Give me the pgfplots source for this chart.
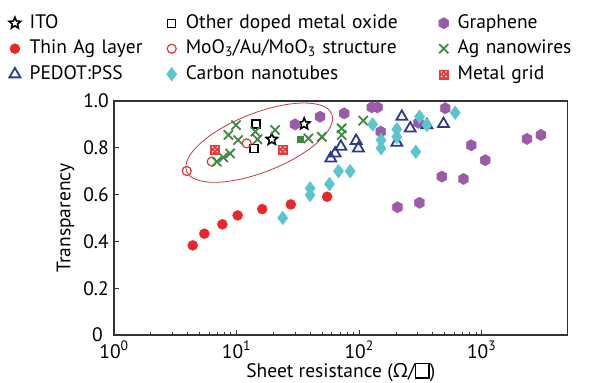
\documentclass[border=0pt]{standalone}
\usepackage{fontspec}
\setmainfont{PT Sans}
\newfontfamily\omegafont{Open Sans}
\usepackage{pgfplots}
\pgfplotsset{compat=1.18}

\definecolor{agred}{HTML}{E8262C}
\definecolor{moored}{HTML}{E0343A}
\definecolor{gridred}{HTML}{E83A3E}
\definecolor{pblue}{HTML}{2B3990}
\definecolor{cnt}{HTML}{5BC5CE}
\definecolor{graph}{HTML}{9A5BA8}
\definecolor{agnw}{HTML}{3D8B3D}
\definecolor{ell}{HTML}{C8363D}

\pgfdeclareplotmark{fivestar}{%
  \pgfpathmoveto{\pgfpointpolar{90}{\pgfplotmarksize}}%
  \pgfpathlineto{\pgfpointpolar{126}{0.45\pgfplotmarksize}}%
  \pgfpathlineto{\pgfpointpolar{162}{\pgfplotmarksize}}%
  \pgfpathlineto{\pgfpointpolar{198}{0.45\pgfplotmarksize}}%
  \pgfpathlineto{\pgfpointpolar{234}{\pgfplotmarksize}}%
  \pgfpathlineto{\pgfpointpolar{270}{0.45\pgfplotmarksize}}%
  \pgfpathlineto{\pgfpointpolar{306}{\pgfplotmarksize}}%
  \pgfpathlineto{\pgfpointpolar{342}{0.45\pgfplotmarksize}}%
  \pgfpathlineto{\pgfpointpolar{18}{\pgfplotmarksize}}%
  \pgfpathlineto{\pgfpointpolar{54}{0.45\pgfplotmarksize}}%
  \pgfpathclose
  \pgfusepathqfillstroke}
\pgfdeclareplotmark{hexagon*}{%
  \pgfpathmoveto{\pgfpointpolar{90}{\pgfplotmarksize}}%
  \pgfpathlineto{\pgfpointpolar{150}{\pgfplotmarksize}}%
  \pgfpathlineto{\pgfpointpolar{210}{\pgfplotmarksize}}%
  \pgfpathlineto{\pgfpointpolar{270}{\pgfplotmarksize}}%
  \pgfpathlineto{\pgfpointpolar{330}{\pgfplotmarksize}}%
  \pgfpathlineto{\pgfpointpolar{30}{\pgfplotmarksize}}%
  \pgfpathclose
  \pgfusepathqfillstroke}
\pgfdeclareplotmark{gridsq}{%
  \pgfpathrectangle{\pgfpoint{-\pgfplotmarksize}{-\pgfplotmarksize}}{\pgfpoint{2\pgfplotmarksize}{2\pgfplotmarksize}}%
  \pgfusepathqfillstroke
  \begin{pgfscope}
  \pgfsetfillcolor{white}%
  \pgfpathcircle{\pgfpoint{0.5\pgfplotmarksize}{0.5\pgfplotmarksize}}{0.2\pgfplotmarksize}%
  \pgfpathcircle{\pgfpoint{-0.5\pgfplotmarksize}{0.5\pgfplotmarksize}}{0.2\pgfplotmarksize}%
  \pgfpathcircle{\pgfpoint{0.5\pgfplotmarksize}{-0.5\pgfplotmarksize}}{0.2\pgfplotmarksize}%
  \pgfpathcircle{\pgfpoint{-0.5\pgfplotmarksize}{-0.5\pgfplotmarksize}}{0.2\pgfplotmarksize}%
  \pgfpathcircle{\pgfpoint{0pt}{0pt}}{0.2\pgfplotmarksize}%
  \pgfusepathqfill
  \end{pgfscope}}

\newcommand{\sq}{{\setlength\fboxsep{0pt}\setlength\fboxrule{0.07em}\fbox{\rule{0pt}{0.68em}\hspace{0.62em}}}}

\begin{document}
\fontsize{19.5}{23}\selectfont
\begin{tikzpicture}
\path[use as bounding box] (-114pt,-47pt) rectangle (495pt,335pt);
\begin{axis}[
  at={(0pt,0pt)}, anchor=origin,
  scale only axis, width=453.5pt, height=234pt,
  xmode=log, xmin=1, xmax=5012, ymin=0, ymax=1,
  xtick={1,10,100,1000},
  xticklabels={10\textsuperscript{0},10\textsuperscript{1},10\textsuperscript{2},10\textsuperscript{3}},
  ytick={0,0.2,0.4,0.6,0.8,1},
  yticklabels={\makebox[0pt][r]{\raisebox{-2pt}{0}\hspace{6pt}},0.2,0.4,0.6,0.8,1.0},
  xtick pos=bottom, ytick pos=left,
  tick align=inside,
  major tick length=5pt, minor tick length=3pt,
  axis line style={draw=black!80, line width=1.2pt},
  every tick/.style={black!80, line width=1pt},
  xlabel={Sheet resistance ({\omegafont Ω}/\sq)},
  ylabel={Transparency},
  xlabel style={at={(axis description cs:0.5,0)}, anchor=center, yshift=-37pt, inner sep=0pt},
  ylabel style={at={(axis description cs:-0.107,0.5)}, anchor=center},
  xticklabel style={inner sep=1pt, yshift=-5pt},
  yticklabel style={inner sep=1pt, xshift=-4pt},
  legend columns=3,
  legend style={at={(axis description cs:-0.2315,1.376)}, anchor=north west,
    draw=none, fill=none, inner sep=0pt, row sep=5.5pt,
    nodes={inner sep=1pt, text height=14pt, text depth=4pt, align=left},
    /tikz/every odd column/.append style={column sep=8pt},
    /tikz/column 2/.style={text width=136pt},
    /tikz/column 4/.style={text width=252pt},
    /tikz/column 6/.style={text width=150pt}},
  clip=false,
]
\addplot[only marks, mark=fivestar, mark size=6pt, draw=black, fill=white, line width=1.6pt]
  coordinates {(19.4,0.836) (35.6,0.902)};
\addlegendentry{ITO}
\addplot[only marks, mark=square, mark size=4pt, draw=black, line width=1.3pt]
  coordinates {(14.4,0.902) (13.9,0.798)};
\addlegendentry{Other doped metal oxide}
\addplot[only marks, mark=hexagon*, mark size=5.7pt, draw=graph, fill=graph]
  coordinates {(30,0.90) (48,0.933) (75.5,0.947) (127,0.973) (141,0.973) (150,0.869)
  (305,0.907) (504,0.969) (473,0.677) (206,0.546) (311,0.565) (821,0.811)
  (1069,0.747) (711,0.667) (2339,0.838) (3042,0.855)};
\addlegendentry{Graphene}
\addplot[only marks, mark=*, mark size=5pt, draw=agred, fill=agred]
  coordinates {(4.39,0.383) (5.46,0.433) (7.66,0.473) (10.2,0.511) (16.2,0.538) (27.7,0.558) (54.8,0.591)};
\addlegendentry{Thin Ag layer}
\addplot[only marks, mark=o, mark size=4.5pt, draw=moored, line width=1.2pt]
  coordinates {(3.92,0.701) (6.27,0.741) (12.1,0.819)};
\addlegendentry{MoO\textsubscript{3}/Au/MoO\textsubscript{3} structure}
\addplot[only marks, mark=x, mark size=6.5pt, draw=agnw, line width=1.8pt]
  coordinates {(6.89,0.741) (7.80,0.759) (8.85,0.776) (8.58,0.855) (9.9,0.897) (10.3,0.833)
  (14.2,0.869) (14.8,0.836) (20.6,0.876) (38.6,0.840) (49.6,0.847) (72,0.883) (72,0.855) (108,0.916)};
\addlegendentry{Ag nanowires}
\addplot[only marks, mark=triangle, mark size=6.3pt, draw=pblue, line width=1.8pt]
  coordinates {(58.7,0.755) (63.7,0.776) (71,0.805) (94.5,0.830) (98.7,0.798) (203,0.822)
  (223,0.933) (261,0.883) (357,0.897) (488,0.902)};
\addlegendentry{PEDOT:PSS}
\addplot[only marks, mark=diamond*, mark size=6.8pt, draw=cnt, fill=cnt]
  coordinates {(23.8,0.50) (39.8,0.627) (39.8,0.598) (57.3,0.645) (67.8,0.70) (84.5,0.70)
  (129,0.90) (151,0.833) (151,0.798) (203,0.879) (203,0.847) (290,0.783) (311,0.933) (357,0.897) (608,0.95)};
\addlegendentry{Carbon nanotubes}
\addplot[only marks, mark=gridsq, mark size=4.5pt, draw=gridred, fill=gridred]
  coordinates {(6.67,0.793) (23.8,0.793)};
\addlegendentry{Metal grid}
\addplot[only marks, mark=square*, mark size=2.8pt, draw=agnw, fill=agnw, forget plot]
  coordinates {(33,0.836)};
\draw[ell, line width=0.8pt, rotate around={21.5:(axis cs:15.3,0.822)}] (axis cs:15.3,0.822) ellipse [x radius=78pt, y radius=29.5pt];
\end{axis}
\end{tikzpicture}
\end{document}
